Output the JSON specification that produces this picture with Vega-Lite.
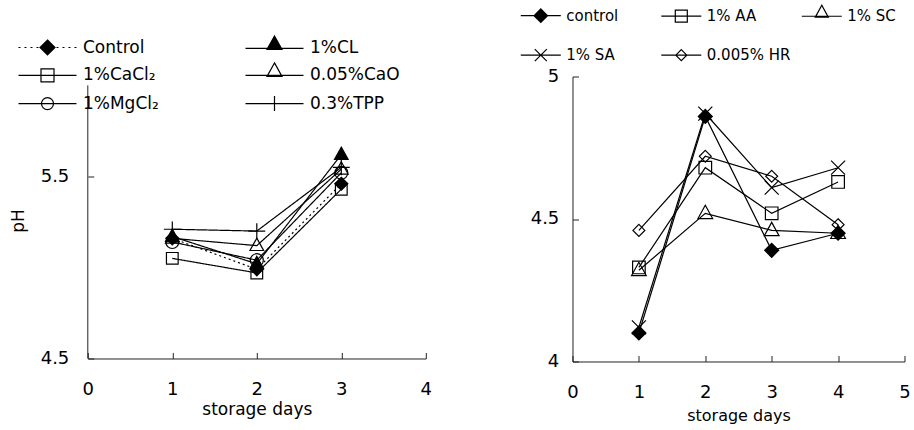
{
  "$schema": "https://vega.github.io/schema/vega-lite/v6.json",
  "padding": {"left": 9.8, "top": 7.5, "right": 0, "bottom": 0},
  "datasets": {
    "left": [
      {"treatment": "0.3%TPP", "day": 1, "pH": 5.21},
      {"treatment": "0.3%TPP", "day": 2, "pH": 5.2},
      {"treatment": "0.3%TPP", "day": 3, "pH": 5.55},
      {"treatment": "1%CaCl₂", "day": 1, "pH": 5.05},
      {"treatment": "1%CaCl₂", "day": 2, "pH": 4.97},
      {"treatment": "1%CaCl₂", "day": 3, "pH": 5.43},
      {"treatment": "0.05%CaO", "day": 1, "pH": 5.16},
      {"treatment": "0.05%CaO", "day": 2, "pH": 5.12},
      {"treatment": "0.05%CaO", "day": 3, "pH": 5.54},
      {"treatment": "1%MgCl₂", "day": 1, "pH": 5.14},
      {"treatment": "1%MgCl₂", "day": 2, "pH": 5.04},
      {"treatment": "1%MgCl₂", "day": 3, "pH": 5.52},
      {"treatment": "1%CL", "day": 1, "pH": 5.17},
      {"treatment": "1%CL", "day": 2, "pH": 5.02},
      {"treatment": "1%CL", "day": 3, "pH": 5.62},
      {"treatment": "Control", "day": 1, "pH": 5.16},
      {"treatment": "Control", "day": 2, "pH": 4.99},
      {"treatment": "Control", "day": 3, "pH": 5.46}
    ],
    "right": [
      {"sample": "0.005% HR", "day": 1, "pH": 4.46},
      {"sample": "0.005% HR", "day": 2, "pH": 4.72},
      {"sample": "0.005% HR", "day": 3, "pH": 4.65},
      {"sample": "0.005% HR", "day": 4, "pH": 4.48},
      {"sample": "1% SC", "day": 1, "pH": 4.32},
      {"sample": "1% SC", "day": 2, "pH": 4.52},
      {"sample": "1% SC", "day": 3, "pH": 4.46},
      {"sample": "1% SC", "day": 4, "pH": 4.45},
      {"sample": "1% AA", "day": 1, "pH": 4.33},
      {"sample": "1% AA", "day": 2, "pH": 4.68},
      {"sample": "1% AA", "day": 3, "pH": 4.52},
      {"sample": "1% AA", "day": 4, "pH": 4.63},
      {"sample": "1% SA", "day": 1, "pH": 4.12},
      {"sample": "1% SA", "day": 2, "pH": 4.87},
      {"sample": "1% SA", "day": 3, "pH": 4.61},
      {"sample": "1% SA", "day": 4, "pH": 4.68},
      {"sample": "control", "day": 1, "pH": 4.1},
      {"sample": "control", "day": 2, "pH": 4.86},
      {"sample": "control", "day": 3, "pH": 4.39},
      {"sample": "control", "day": 4, "pH": 4.45}
    ]
  },
  "config": {
    "font": "DejaVu Sans",
    "view": {"stroke": null},
    "axis": {
      "grid": false,
      "domainColor": "#222",
      "tickColor": "#222",
      "labelColor": "#000",
      "titleColor": "#000",
      "labelFont": "DejaVu Sans",
      "titleFont": "DejaVu Sans",
      "titleFontWeight": "normal",
      "tickSize": -6,
      "domainWidth": 1,
      "tickWidth": 1,
      "labelFlush": false,
      "labelOverlap": false,
      "labelBound": false
    },
    "legend": {
      "title": null,
      "orient": "none",
      "direction": "horizontal",
      "gridAlign": "all",
      "padding": 0,
      "symbolSize": 100,
      "symbolOpacity": 1,
      "symbolStrokeWidth": 1.2,
      "symbolStrokeColor": "black",
      "symbolFillColor": "transparent",
      "labelFont": "DejaVu Sans",
      "labelColor": "black",
      "labelLimit": 300
    }
  },
  "bounds": "flush",
  "spacing": 146.7,
  "resolve": {
    "scale": {"x": "independent", "y": "independent", "shape": "independent", "fill": "independent", "strokeDash": "independent"},
    "legend": {"shape": "independent"}
  },
  "hconcat": [
    {
      "width": 338,
      "height": 282,
      "data": {"name": "left"},
      "resolve": {"scale": {"shape": "independent"}},
      "layer": [
        {
          "description": "y axis line, drawn from 4.5 up to 6.0 only",
          "data": {"values": [{}]},
          "mark": {"type": "rule", "color": "#222", "strokeWidth": 1},
          "encoding": {
            "x": {"datum": 0, "type": "quantitative"},
            "y": {"datum": 4.5, "type": "quantitative"},
            "y2": {"datum": 6.0}
          }
        },
        {
          "mark": {"type": "line", "color": "black", "strokeWidth": 1.2},
          "encoding": {
            "x": {
              "field": "day", "type": "quantitative",
              "scale": {"domain": [0, 4], "nice": false, "zero": false},
              "axis": {"values": [0, 1, 2, 3, 4], "format": "d", "title": "storage days", "labelFontSize": 18, "labelPadding": 28, "titleFontSize": 17, "titleY": 51, "titleBaseline": "middle"}
            },
            "y": {
              "field": "pH", "type": "quantitative",
              "scale": {"domain": [4.5, 6.049], "nice": false, "zero": false},
              "axis": {"values": [4.5, 5.5], "format": ".1f", "domain": false, "title": "pH", "labelFontSize": 18, "labelPadding": 25, "titleFontSize": 17, "titleX": -69, "titleY": 144, "titleAngle": -90, "titleAlign": "center", "titleBaseline": "middle"}
            },
            "strokeDash": {
              "field": "treatment", "type": "nominal",
              "scale": {
                "domain": ["Control", "1%CL", "1%CaCl₂", "0.05%CaO", "1%MgCl₂", "0.3%TPP"],
                "range": [[2, 3], [1, 0], [1, 0], [1, 0], [1, 0], [1, 0]]
              },
              "legend": null
            }
          }
        },
        {
          "mark": {"type": "point", "filled": true, "stroke": "black", "strokeWidth": 1.2, "size": 169, "opacity": 1},
          "encoding": {
            "x": {"field": "day", "type": "quantitative"},
            "y": {"field": "pH", "type": "quantitative"},
            "fill": {
              "field": "treatment", "type": "nominal",
              "scale": {
                "domain": ["Control", "1%CL", "1%CaCl₂", "0.05%CaO", "1%MgCl₂", "0.3%TPP"],
                "range": ["black", "black", "transparent", "transparent", "transparent", "transparent"]
              },
              "legend": null
            },
            "shape": {
              "field": "treatment", "type": "nominal",
              "scale": {
                "domain": ["Control", "1%CL", "1%CaCl₂", "0.05%CaO", "1%MgCl₂", "0.3%TPP"],
                "range": [
                  "M0,-1L1,0L0,1L-1,0Z",
                  "M0,-1.15L1.05,0.75L-1.05,0.75Z",
                  "M-0.9,-0.9H0.9V0.9H-0.9Z",
                  "M0,-1.15L1.05,0.75L-1.05,0.75Z",
                  "circle",
                  "M-1.3,0H1.3M0,-1.2V1.2"
                ]
              },
              "legend": null
            }
          }
        },
        {
          "description": "legend key: each symbol is a line segment with its marker",
          "mark": {"type": "point", "filled": false, "color": "black", "strokeWidth": 1.2, "size": 100, "opacity": 0},
          "encoding": {
            "x": {"field": "day", "type": "quantitative"},
            "y": {"field": "pH", "type": "quantitative"},
            "shape": {
              "field": "treatment", "type": "nominal",
              "scale": {
                "domain": ["Control", "1%CL", "1%CaCl₂", "0.05%CaO", "1%MgCl₂", "0.3%TPP"],
                "range": [
                  "M-5.8,0H-5.4M-4.6,0H-4.2M-3.4,0H-3M-2.2,0H-1.8M1.8,0H2.2M3,0H3.4M4.2,0H4.6M5.4,0H5.8M0,-1.5L1.5,0L0,1.5L-1.5,0ZM-0.1,-1.4H0.1M-0.3,-1.2H0.3M-0.5,-1H0.5M-0.7,-0.8H0.7M-0.9,-0.6H0.9M-1.1,-0.4H1.1M-1.3,-0.2H1.3M-1.5,0H1.5M-1.3,0.2H1.3M-1.1,0.4H1.1M-0.9,0.6H0.9M-0.7,0.8H0.7M-0.5,1H0.5M-0.3,1.2H0.3M-0.1,1.4H0.1",
                  "M-5.8,0H5.8M0,-2.5L1.5,0.2L-1.5,0.2ZM-0.17,-2.2H0.17M-0.28,-2H0.28M-0.39,-1.8H0.39M-0.5,-1.6H0.5M-0.61,-1.4H0.61M-0.72,-1.2H0.72M-0.83,-1H0.83M-0.94,-0.8H0.94M-1.06,-0.6H1.06M-1.17,-0.4H1.17M-1.28,-0.2H1.28M-1.39,0H1.39",
                  "M-5.8,0H5.8M-1.3,-1.3H1.3V1.3H-1.3Z",
                  "M-5.8,0H5.8M0,-2.5L1.5,0.2L-1.5,0.2Z",
                  "M-5.8,0H5.8M1.2,0A1.2,1.2,0,1,1,-1.2,0A1.2,1.2,0,1,1,1.2,0Z",
                  "M-5.8,0H5.8M0,-1.5V1.5"
                ]
              },
              "legend": {
                "legendX": -69.3,
                "legendY": -37.8,
                "columns": 2,
                "columnPadding": 69,
                "rowPadding": 2.2,
                "symbolOffset": 20.5,
                "labelOffset": 27,
                "labelFontSize": 17
              }
            }
          }
        }
      ]
    },
    {
      "width": 332,
      "height": 285,
      "data": {"name": "right"},
      "resolve": {"scale": {"shape": "independent"}},
      "layer": [
        {
          "mark": {"type": "line", "color": "black", "strokeWidth": 1.2},
          "encoding": {
            "x": {
              "field": "day", "type": "quantitative",
              "scale": {"domain": [0, 5], "nice": false, "zero": false},
              "axis": {"values": [0, 1, 2, 3, 4, 5], "format": "d", "title": "storage days", "labelFontSize": 18, "labelPadding": 28, "titleFontSize": 16, "titleY": 54, "titleBaseline": "middle"}
            },
            "y": {
              "field": "pH", "type": "quantitative",
              "scale": {"domain": [4, 5], "nice": false, "zero": false},
              "axis": {"values": [4, 4.5, 5], "format": ".2~f", "title": null, "labelFontSize": 18, "labelPadding": 19.7}
            },
            "detail": {"field": "sample", "type": "nominal"}
          }
        },
        {
          "mark": {"type": "point", "filled": true, "stroke": "black", "strokeWidth": 1.2, "size": 196, "opacity": 1},
          "encoding": {
            "x": {"field": "day", "type": "quantitative"},
            "y": {"field": "pH", "type": "quantitative"},
            "fill": {
              "field": "sample", "type": "nominal",
              "scale": {
                "domain": ["control", "1% AA", "1% SC", "1% SA", "0.005% HR"],
                "range": ["black", "transparent", "transparent", "transparent", "transparent"]
              },
              "legend": null
            },
            "shape": {
              "field": "sample", "type": "nominal",
              "scale": {
                "domain": ["control", "1% AA", "1% SC", "1% SA", "0.005% HR"],
                "range": [
                  "M0,-1L1,0L0,1L-1,0Z",
                  "M-0.9,-0.9H0.9V0.9H-0.9Z",
                  "M0,-1.15L1.05,0.75L-1.05,0.75Z",
                  "M-1,-1L1,1M-1,1L1,-1",
                  "M0,-0.85L0.85,0L0,0.85L-0.85,0Z"
                ]
              },
              "legend": null
            }
          }
        },
        {
          "description": "legend key: each symbol is a line segment with its marker",
          "mark": {"type": "point", "filled": false, "color": "black", "strokeWidth": 1.2, "size": 100, "opacity": 0},
          "encoding": {
            "x": {"field": "day", "type": "quantitative"},
            "y": {"field": "pH", "type": "quantitative"},
            "shape": {
              "field": "sample", "type": "nominal",
              "scale": {
                "domain": ["control", "1% AA", "1% SC", "1% SA", "0.005% HR"],
                "range": [
                  "M-4,0H4M0,-1.35L1.35,0L0,1.35L-1.35,0ZM-0.15,-1.2H0.15M-0.35,-1H0.35M-0.55,-0.8H0.55M-0.75,-0.6H0.75M-0.95,-0.4H0.95M-1.15,-0.2H1.15M-1.15,0.2H1.15M-0.95,0.4H0.95M-0.75,0.6H0.75M-0.55,0.8H0.55M-0.35,1H0.35M-0.15,1.2H0.15",
                  "M-4,0H4M-1.2,-1.2H1.2V1.2H-1.2Z",
                  "M-4,0H4M0,-2.2L1.3,0.2L-1.3,0.2Z",
                  "M-4,0H4M-1.2,-1.2L1.2,1.2M-1.2,1.2L1.2,-1.2",
                  "M-4,0H4M0,-1.1L1.1,0L0,1.1L-1.1,0Z"
                ]
              },
              "legend": {
                "legendX": -51.7,
                "legendY": -68.5,
                "columns": 3,
                "columnPadding": 7.5,
                "rowPadding": 21.7,
                "symbolOffset": 12.5,
                "labelOffset": 18,
                "labelFontSize": 15
              }
            }
          }
        }
      ]
    }
  ]
}
